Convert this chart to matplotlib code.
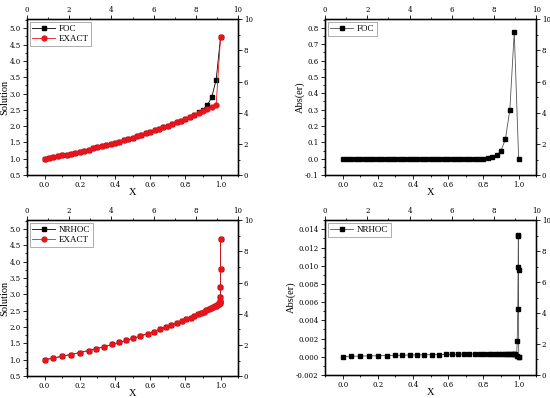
import matplotlib
matplotlib.use('Agg')
import matplotlib.pyplot as plt
from matplotlib.ticker import MultipleLocator

plt.rcParams['font.family'] = ['DejaVu Serif']
plt.rcParams['font.size'] = 5

# panel 1 / 2 : FOC on uniform grid
x_foc = [0.0, 0.025, 0.05, 0.075, 0.1, 0.125, 0.15, 0.175, 0.2, 0.225,
         0.25, 0.275, 0.3, 0.325, 0.35, 0.375, 0.4, 0.425, 0.45, 0.475,
         0.5, 0.525, 0.55, 0.575, 0.6, 0.625, 0.65, 0.675, 0.7, 0.725,
         0.75, 0.775, 0.8, 0.825, 0.85, 0.875, 0.9, 0.925, 0.95, 0.975, 1.0]
exact_foc = [1.00, 1.03, 1.05, 1.08, 1.11, 1.13, 1.16, 1.19, 1.22, 1.25,
             1.28, 1.32, 1.35, 1.38, 1.42, 1.45, 1.49, 1.53, 1.57, 1.61,
             1.65, 1.69, 1.73, 1.78, 1.82, 1.87, 1.92, 1.96, 2.01, 2.06,
             2.12, 2.17, 2.23, 2.28, 2.34, 2.40, 2.46, 2.52, 2.59, 2.65, 4.72]
foc_sol = [1.00, 1.03, 1.05, 1.08, 1.11, 1.13, 1.16, 1.19, 1.22, 1.25,
           1.28, 1.32, 1.35, 1.38, 1.42, 1.45, 1.49, 1.53, 1.57, 1.61,
           1.65, 1.69, 1.73, 1.78, 1.82, 1.87, 1.92, 1.96, 2.01, 2.06,
           2.12, 2.17, 2.23, 2.28, 2.35, 2.42, 2.51, 2.64, 2.89, 3.42, 4.72]
foc_err = [0.0] * 33 + [0.003, 0.008, 0.02, 0.05, 0.12, 0.30, 0.775, 0.0]

# panel 3 / 4 : NRHOC on graded grid
x_nr = [0.0, 0.05, 0.10, 0.15, 0.20, 0.25, 0.295, 0.34, 0.385, 0.425,
        0.465, 0.505, 0.545, 0.585, 0.62, 0.655, 0.69, 0.72, 0.75, 0.78,
        0.805, 0.83, 0.85, 0.87, 0.89, 0.905, 0.92, 0.935, 0.947, 0.958,
        0.967, 0.975, 0.982, 0.988, 0.992, 0.995, 0.997, 0.998, 0.999, 0.9995,
        1.0, 1.0]
exact_nr = [1.00, 1.05, 1.11, 1.16, 1.22, 1.28, 1.34, 1.40, 1.47, 1.53,
            1.59, 1.66, 1.72, 1.80, 1.86, 1.93, 1.99, 2.05, 2.12, 2.18,
            2.24, 2.29, 2.34, 2.39, 2.44, 2.47, 2.51, 2.55, 2.58, 2.61,
            2.63, 2.65, 2.67, 2.69, 2.70, 2.72, 2.76, 2.80, 2.93, 3.22,
            3.78, 4.70]
nrhoc_sol = exact_nr[:]
nrhoc_err = [0.0, 0.00004, 0.00007, 0.00009, 0.00011, 0.00013, 0.00015, 0.00017, 0.00019, 0.0002,
             0.00021, 0.00023, 0.00024, 0.00025, 0.00026, 0.00027, 0.00028, 0.00029, 0.0003, 0.0003,
             0.0003, 0.0003, 0.0003, 0.0003, 0.0003, 0.0003, 0.0003, 0.0003, 0.0003, 0.0003,
             0.0003, 0.0003, 0.0003, 0.00005, 0.0017, 0.0053, 0.0099, 0.0133, 0.0134, 0.0095,
             0.0, 0.0]

LBL = dict(family='Liberation Serif', fontsize=7.5)


def style(ax, ylim, ymaj, ymin, fmt):
    ax.set_xlim(-0.1, 1.1)
    ax.set_ylim(*ylim)
    ax.xaxis.set_major_locator(MultipleLocator(0.2))
    ax.xaxis.set_minor_locator(MultipleLocator(0.1))
    ax.yaxis.set_major_locator(MultipleLocator(ymaj))
    ax.yaxis.set_minor_locator(MultipleLocator(ymin))
    ax.yaxis.set_major_formatter(plt.FormatStrFormatter(fmt))
    ax.xaxis.set_major_formatter(plt.FormatStrFormatter('%.1f'))
    ax.tick_params(which='both', direction='out', width=0.6, pad=1.5)
    ax.tick_params(which='major', length=3)
    ax.tick_params(which='minor', length=1.5)
    for s in ax.spines.values():
        s.set_linewidth(1.0)
    ax.set_xlabel('X', labelpad=-1, **LBL)
    # dummy top / right axes
    axt = ax.twiny()
    axt.set_xlim(0, 10)
    axt.xaxis.set_major_locator(MultipleLocator(2))
    axt.xaxis.set_minor_locator(MultipleLocator(1))
    axt.tick_params(which='both', direction='out', width=0.6, pad=1)
    axt.tick_params(which='major', length=3)
    axt.tick_params(which='minor', length=1.5)
    axr = ax.twinx()
    axr.set_ylim(0, 10)
    axr.yaxis.set_major_locator(MultipleLocator(2))
    axr.yaxis.set_minor_locator(MultipleLocator(1))
    axr.tick_params(which='both', direction='out', width=0.6, pad=1)
    axr.tick_params(which='major', length=3)
    axr.tick_params(which='minor', length=1.5)


def legend(ax):
    leg = ax.legend(loc='upper left', frameon=True, fancybox=False,
                    prop={'family': 'Liberation Serif', 'size': 6.5},
                    handlelength=2.5, borderpad=0.3, labelspacing=0.2,
                    borderaxespad=0.3, handletextpad=0.4)
    leg.get_frame().set_edgecolor('#888888')
    leg.get_frame().set_linewidth(0.6)


fig = plt.figure(figsize=(5.5, 3.98), dpi=100)

ax1 = fig.add_axes([0.049, 0.560, 0.384, 0.392])
ax1.plot(x_foc, foc_sol, '-s', color='black', lw=0.6, ms=3.2, label='FOC')
ax1.plot(x_foc, exact_foc, '-o', color='#e8141c', lw=0.6, ms=3.5, label='EXACT')
legend(ax1)
ax1.set_ylabel('Solution', labelpad=0, **LBL)
style(ax1, (0.5, 5.28), 0.5, 0.25, '%.1f')

ax2 = fig.add_axes([0.591, 0.560, 0.384, 0.392])
ax2.plot(x_foc, foc_err, '-s', color='#555555', mfc='black', mec='black',
         lw=0.6, ms=3.2, label='FOC')
legend(ax2)
ax2.set_ylabel('Abs(er)', labelpad=0, **LBL)
style(ax2, (-0.1, 0.853), 0.1, 0.05, '%.1f')

ax3 = fig.add_axes([0.049, 0.055, 0.384, 0.392])
ax3.plot(x_nr, nrhoc_sol, '-s', color='black', lw=0.6, ms=3.2, label='NRHOC')
ax3.plot(x_nr, exact_nr, '-o', color='#e8141c', lw=0.6, ms=3.5, label='EXACT')
legend(ax3)
ax3.set_ylabel('Solution', labelpad=0, **LBL)
style(ax3, (0.5, 5.27), 0.5, 0.25, '%.1f')

ax4 = fig.add_axes([0.591, 0.058, 0.384, 0.389])
ax4.plot(x_nr, nrhoc_err, '-s', color='#555555', mfc='black', mec='black',
         lw=0.6, ms=3.2, label='NRHOC')
legend(ax4)
ax4.set_ylabel('Abs(er)', labelpad=0, **LBL)
style(ax4, (-0.002, 0.01502), 0.002, 0.001, '%.3f')

fig.savefig('out.png', dpi=100)
